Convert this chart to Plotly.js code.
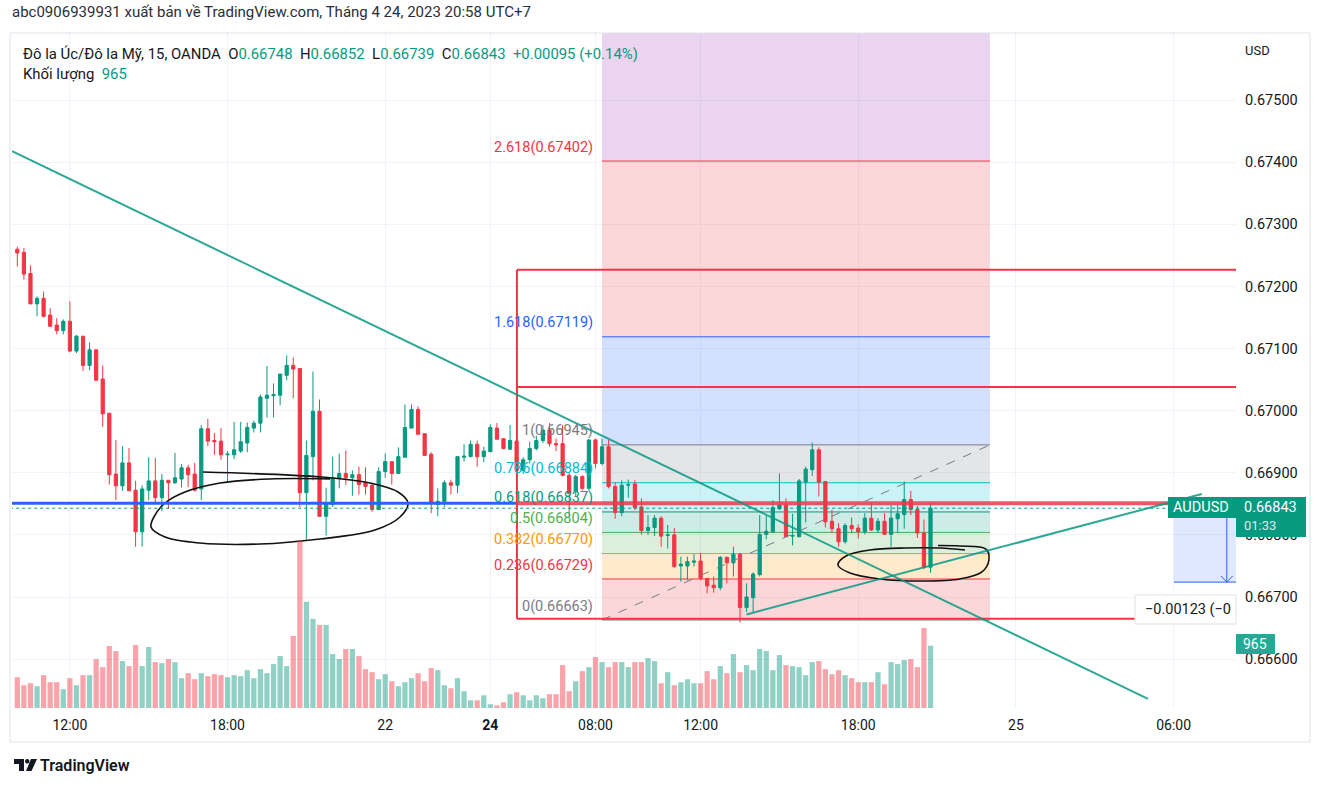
<!DOCTYPE html>
<html>
<head>
<meta charset="utf-8">
<script src="https://cdn.plot.ly/plotly-3.0.1.min.js"></script>
<style>
  html, body { margin: 0; padding: 0; background: #fff; }
  #chart { width: 1324px; height: 786px; }
</style>
</head>
<body>
<div id="chart"></div>
<script>
// AUDUSD 15m, bar index 0 = Fri 21/04 10:00 (UTC+7), weekend removed
const opens = [
  0.67260, 0.67255, 0.67221, 0.67172, 0.67181, 0.67154, 0.67138, 0.67129, 0.67144, 0.67096,
  0.67120, 0.67073, 0.67098, 0.67051, 0.66996, 0.66898, 0.66879, 0.66916, 0.66872, 0.66805,
  0.66872, 0.66887, 0.66860, 0.66888, 0.66884, 0.66890, 0.66908, 0.66898, 0.66874, 0.66971,
  0.66952, 0.66951, 0.66929, 0.66929, 0.66935, 0.66948, 0.66972, 0.66980, 0.67020, 0.67024,
  0.67025, 0.67057, 0.67073, 0.67068, 0.66868, 0.66926, 0.66999, 0.66830, 0.66849, 0.66891,
  0.66899, 0.66892, 0.66897, 0.66884, 0.66880, 0.66841, 0.66902, 0.66918, 0.66899, 0.66925,
  0.66972, 0.67002, 0.66963, 0.66930, 0.66849, 0.66854, 0.66884, 0.66880, 0.66925, 0.66926,
  0.66946, 0.66926, 0.66934, 0.66972, 0.66955, 0.66938, 0.66951, 0.66904, 0.66921, 0.66939,
  0.66952, 0.66969, 0.66947, 0.66947, 0.66896, 0.66870, 0.66894, 0.66875, 0.66953, 0.66915,
  0.66942, 0.66878, 0.66836, 0.66880, 0.66882, 0.66845, 0.66807, 0.66812, 0.66827, 0.66799,
  0.66800, 0.66750, 0.66750, 0.66756, 0.66758, 0.66730, 0.66719, 0.66715, 0.66764, 0.66755,
  0.66769, 0.66683, 0.66699, 0.66736, 0.66801, 0.66805, 0.66842, 0.66848, 0.66798, 0.66797,
  0.66885, 0.66905, 0.66937, 0.66886, 0.66822, 0.66810, 0.66789, 0.66815, 0.66811, 0.66805,
  0.66827, 0.66808, 0.66822, 0.66801, 0.66826, 0.66833, 0.66857, 0.66841, 0.66803, 0.66748
];
const highs = [
  0.67264, 0.67262, 0.67234, 0.67184, 0.67192, 0.67165, 0.67149, 0.67147, 0.67176, 0.67122,
  0.67120, 0.67110, 0.67098, 0.67073, 0.66996, 0.66953, 0.66943, 0.66940, 0.66887, 0.66880,
  0.66925, 0.66924, 0.66898, 0.66888, 0.66932, 0.66914, 0.66913, 0.66916, 0.66977, 0.66987,
  0.66964, 0.66972, 0.66935, 0.66982, 0.66982, 0.66981, 0.66984, 0.67026, 0.67072, 0.67044,
  0.67059, 0.67089, 0.67086, 0.67068, 0.66952, 0.67063, 0.67018, 0.66876, 0.66926, 0.66931,
  0.66936, 0.66904, 0.66910, 0.66909, 0.66884, 0.66909, 0.66931, 0.66918, 0.66941, 0.67010,
  0.67010, 0.67007, 0.66963, 0.66933, 0.66875, 0.66888, 0.66889, 0.66926, 0.66946, 0.66952,
  0.66952, 0.66942, 0.66978, 0.66980, 0.66956, 0.66977, 0.66956, 0.66925, 0.66950, 0.66960,
  0.66977, 0.66980, 0.66955, 0.66977, 0.66900, 0.66897, 0.66896, 0.66954, 0.66955, 0.66955,
  0.66953, 0.66885, 0.66888, 0.66889, 0.66888, 0.66859, 0.66832, 0.66832, 0.66830, 0.66816,
  0.66811, 0.66765, 0.66765, 0.66769, 0.66771, 0.66730, 0.66733, 0.66766, 0.66765, 0.66781,
  0.66771, 0.66722, 0.66740, 0.66832, 0.66831, 0.66856, 0.66899, 0.66859, 0.66834, 0.66890,
  0.66910, 0.66949, 0.66941, 0.66886, 0.66840, 0.66819, 0.66819, 0.66828, 0.66817, 0.66835,
  0.66852, 0.66827, 0.66835, 0.66848, 0.66848, 0.66886, 0.66871, 0.66847, 0.66825, 0.66852
];
const lows = [
  0.67232, 0.67211, 0.67172, 0.67152, 0.67150, 0.67135, 0.67123, 0.67123, 0.67094, 0.67093,
  0.67064, 0.67065, 0.67049, 0.66974, 0.66881, 0.66856, 0.66871, 0.66871, 0.66781, 0.66781,
  0.66856, 0.66851, 0.66838, 0.66842, 0.66882, 0.66876, 0.66877, 0.66870, 0.66856, 0.66943,
  0.66929, 0.66921, 0.66886, 0.66922, 0.66932, 0.66933, 0.66965, 0.66965, 0.66989, 0.66989,
  0.67009, 0.67049, 0.67020, 0.66845, 0.66792, 0.66888, 0.66830, 0.66799, 0.66845, 0.66875,
  0.66881, 0.66863, 0.66865, 0.66865, 0.66837, 0.66841, 0.66892, 0.66881, 0.66899, 0.66925,
  0.66972, 0.66962, 0.66928, 0.66835, 0.66830, 0.66845, 0.66865, 0.66867, 0.66918, 0.66925,
  0.66910, 0.66917, 0.66934, 0.66954, 0.66938, 0.66937, 0.66900, 0.66898, 0.66915, 0.66936,
  0.66948, 0.66942, 0.66935, 0.66894, 0.66830, 0.66862, 0.66872, 0.66872, 0.66907, 0.66912,
  0.66875, 0.66826, 0.66830, 0.66860, 0.66840, 0.66801, 0.66800, 0.66798, 0.66781, 0.66778,
  0.66747, 0.66725, 0.66727, 0.66749, 0.66727, 0.66706, 0.66707, 0.66711, 0.66722, 0.66733,
  0.66659, 0.66676, 0.66676, 0.66733, 0.66793, 0.66803, 0.66840, 0.66797, 0.66783, 0.66797,
  0.66820, 0.66895, 0.66862, 0.66812, 0.66803, 0.66781, 0.66786, 0.66803, 0.66794, 0.66801,
  0.66806, 0.66803, 0.66800, 0.66781, 0.66803, 0.66810, 0.66832, 0.66795, 0.66745, 0.66739
];
const closes = [
  0.67254, 0.67220, 0.67172, 0.67181, 0.67152, 0.67136, 0.67129, 0.67144, 0.67096, 0.67120,
  0.67073, 0.67098, 0.67049, 0.66995, 0.66897, 0.66879, 0.66916, 0.66871, 0.66805, 0.66874,
  0.66887, 0.66860, 0.66888, 0.66884, 0.66892, 0.66908, 0.66897, 0.66872, 0.66971, 0.66951,
  0.66950, 0.66929, 0.66930, 0.66937, 0.66950, 0.66973, 0.66980, 0.67022, 0.67025, 0.67026,
  0.67059, 0.67073, 0.67067, 0.66868, 0.66928, 0.66999, 0.66830, 0.66849, 0.66892, 0.66899,
  0.66892, 0.66897, 0.66881, 0.66878, 0.66841, 0.66902, 0.66918, 0.66899, 0.66926, 0.66973,
  0.67002, 0.66962, 0.66928, 0.66851, 0.66854, 0.66884, 0.66880, 0.66926, 0.66927, 0.66946,
  0.66926, 0.66935, 0.66973, 0.66954, 0.66939, 0.66952, 0.66904, 0.66921, 0.66939, 0.66952,
  0.66969, 0.66947, 0.66945, 0.66896, 0.66867, 0.66894, 0.66875, 0.66953, 0.66915, 0.66942,
  0.66878, 0.66836, 0.66880, 0.66881, 0.66844, 0.66807, 0.66812, 0.66827, 0.66798, 0.66800,
  0.66749, 0.66753, 0.66757, 0.66758, 0.66730, 0.66718, 0.66715, 0.66764, 0.66755, 0.66769,
  0.66683, 0.66700, 0.66737, 0.66801, 0.66806, 0.66844, 0.66848, 0.66797, 0.66799, 0.66887,
  0.66906, 0.66937, 0.66885, 0.66821, 0.66810, 0.66789, 0.66815, 0.66810, 0.66805, 0.66827,
  0.66808, 0.66822, 0.66801, 0.66827, 0.66834, 0.66857, 0.66841, 0.66803, 0.66748, 0.66843
];
const volumes = [
  477, 353, 384, 337, 509, 400, 400, 291, 462, 353,
  509, 509, 758, 633, 960, 882, 727, 649, 976, 649,
  945, 711, 695, 758, 711, 462, 540, 446, 540, 493,
  524, 509, 477, 509, 493, 586, 462, 602, 540, 680,
  804, 649, 1116, 2594, 1645, 1381, 1287, 1287, 836, 758,
  913, 913, 804, 602, 555, 446, 524, 415, 337, 400,
  462, 540, 415, 618, 586, 353, 306, 462, 260, 119,
  119, 197, 57, 42, 88, 213, 244, 197, 119, 197,
  151, 213, 213, 664, 260, 415, 571, 633, 789, 711,
  633, 711, 711, 633, 711, 711, 773, 727, 384, 555,
  353, 400, 446, 384, 384, 571, 446, 649, 540, 836,
  555, 664, 586, 913, 882, 586, 820, 664, 649, 633,
  509, 711, 727, 602, 524, 586, 509, 462, 400, 400,
  400, 555, 368, 711, 680, 742, 758, 633, 1240, 965
];

const timeTicks = [8, 32, 56, 72, 88, 104, 128, 152, 176];
const timeLabels = ['12:00', '18:00', '22', '<b>24</b>', '08:00', '12:00', '18:00', '25', '06:00'];
const priceTicks = [0.666, 0.667, 0.668, 0.669, 0.670, 0.671, 0.672, 0.673, 0.674, 0.675];

// fibonacci drawing (bar index / price)
const fibFrom = 89, fibTo = 148.05;
const fibLevels = [0, 0.236, 0.382, 0.5, 0.618, 0.786, 1, 1.618, 2.618, 3.618];
const fibPrices = [0.66663, 0.66729, 0.66770, 0.66804, 0.66837, 0.66884, 0.66945, 0.67119, 0.67402, 0.67683];
const fibColors = ['#787b86', '#f23645', '#ff9800', '#4caf50', '#089981', '#00bcd4', '#787b86', '#2962ff', '#f23645', '#9c27b0'];

// other drawings
const downTrend = [[-0.8, 0.67418], [172.1, 0.66536]];
const upTrend = [[111.0, 0.66672], [180.3, 0.66866]];
const blueLevel = 0.66851;
const boxLeft = 76.05;
const boxLevels = [0.66665, 0.66851, 0.67038, 0.67227];
const measure = { x0: 176.05, x1: 190, arrowX: 184.1, top: 0.66829, bottom: 0.66724 };

const loopLeft = [
  [28.27, 0.669013], [46.38, 0.668932], [53.68, 0.668836], [57.95, 0.668691], [59.47, 0.668514],
  [58.25, 0.668289], [54.44, 0.668079], [46.07, 0.667934], [36.94, 0.667853], [27.81, 0.667869],
  [22.48, 0.667966], [20.35, 0.668127], [20.96, 0.668320], [22.48, 0.668514], [25.52, 0.668691],
  [30.85, 0.668836], [38.46, 0.668901], [47.59, 0.668901]
];
const loopRight = [
  [140.13, 0.667829], [143.48, 0.667821], [147.44, 0.667773], [147.89, 0.667596], [146.83, 0.667403],
  [143.48, 0.667291], [137.85, 0.667258], [131.30, 0.667291], [126.74, 0.667387], [124.91, 0.667516],
  [126.13, 0.667661], [129.78, 0.667757], [135.26, 0.667789], [140.44, 0.667789], [144.25, 0.667757]
];

const UP = '#089981', DOWN = '#f23645';
const FONT = 'Roboto, "Noto Sans", sans-serif';
const TXT = '#131722';

// plot area in page pixels, used only for the chrome around the chart
const PL = 12, PR = 1236, PT = 33, PB = 708;
const px = (x) => (x - PL) / (PR - PL);
const py = (y) => (PB - y) / (PB - PT);

const idx = opens.map((_, i) => i);
const n = closes.length;
const lastClose = closes[n - 1];

function rgba(hex, a) {
  const v = parseInt(hex.slice(1), 16);
  return `rgba(${(v >> 16) & 255},${(v >> 8) & 255},${v & 255},${a})`;
}

const volTrace = {
  type: 'bar',
  x: idx,
  y: volumes,
  yaxis: 'y2',
  width: 0.8,
  marker: { color: idx.map((i) => rgba(closes[i] >= opens[i] ? UP : DOWN, 0.45)), line: { width: 0 } },
  hoverinfo: 'skip'
};

const candleTrace = {
  type: 'candlestick',
  x: idx,
  open: opens,
  high: highs,
  low: lows,
  close: closes,
  increasing: { line: { color: UP, width: 1 }, fillcolor: UP },
  decreasing: { line: { color: DOWN, width: 1 }, fillcolor: DOWN },
  whiskerwidth: 0,
  hoverinfo: 'none'
};

function loopTrace(pts) {
  return {
    type: 'scatter',
    mode: 'lines',
    x: pts.map((p) => p[0]),
    y: pts.map((p) => p[1]),
    line: { color: '#111111', width: 1.6, shape: 'spline', smoothing: 1 },
    hoverinfo: 'skip'
  };
}

const shapes = [];

// fib bands + levels
for (let i = 0; i < fibLevels.length - 1; i++) {
  shapes.push({
    type: 'rect', xref: 'x', yref: 'y', layer: 'between',
    x0: fibFrom, x1: fibTo, y0: fibPrices[i], y1: fibPrices[i + 1],
    fillcolor: rgba(fibColors[i + 1], 0.2), line: { width: 0 }
  });
}
for (let i = 0; i < fibLevels.length; i++) {
  shapes.push({
    type: 'line', xref: 'x', yref: 'y', layer: 'between',
    x0: fibFrom, x1: fibTo, y0: fibPrices[i], y1: fibPrices[i],
    line: { color: fibColors[i], width: 1 }
  });
}
shapes.push({
  type: 'line', xref: 'x', yref: 'y', layer: 'above',
  x0: fibFrom, x1: fibTo, y0: fibPrices[0], y1: fibPrices[6],
  line: { color: '#787b86', width: 1, dash: 'dash' }
});

// current price dotted line
shapes.push({
  type: 'line', xref: 'x', yref: 'y', layer: 'above',
  x0: -2, x1: 200, y0: lastClose, y1: lastClose,
  line: { color: UP, width: 1, dash: 'dot' }
});

// blue horizontal level
shapes.push({
  type: 'line', xref: 'x', yref: 'y', layer: 'above',
  x0: -2, x1: boxLeft, y0: blueLevel, y1: blueLevel,
  line: { color: '#2962ff', width: 3 }
});

// red box
shapes.push({
  type: 'line', xref: 'x', yref: 'y', layer: 'above',
  x0: boxLeft, x1: boxLeft, y0: boxLevels[0], y1: boxLevels[3],
  line: { color: DOWN, width: 2 }
});
boxLevels.forEach((lv) => {
  const thick = lv === blueLevel;
  shapes.push({
    type: 'line', xref: 'x', yref: 'y', layer: 'above',
    x0: boxLeft, x1: 200, y0: lv, y1: lv,
    line: { color: thick ? 'rgba(230,60,75,0.85)' : DOWN, width: thick ? 4 : 2 }
  });
});

// trend lines
[downTrend, upTrend].forEach((t) => {
  shapes.push({
    type: 'line', xref: 'x', yref: 'y', layer: 'above',
    x0: t[0][0], y0: t[0][1], x1: t[1][0], y1: t[1][1],
    line: { color: 'rgba(8,153,129,0.85)', width: 2 }
  });
});

// price range measure
shapes.push({
  type: 'rect', xref: 'x', yref: 'y', layer: 'above',
  x0: measure.x0, x1: measure.x1, y0: measure.bottom, y1: measure.top,
  fillcolor: 'rgba(41,98,255,0.15)', line: { width: 0 }
});
shapes.push({
  type: 'line', xref: 'x', yref: 'y', layer: 'above',
  x0: measure.x0, x1: measure.x1, y0: measure.bottom, y1: measure.bottom,
  line: { color: '#2962ff', width: 1 }
});
shapes.push({
  type: 'line', xref: 'x', yref: 'y', layer: 'above',
  x0: measure.arrowX, x1: measure.arrowX, y0: measure.top, y1: measure.bottom,
  line: { color: '#2962ff', width: 1 }
});
shapes.push({
  type: 'path', xref: 'x', yref: 'y', layer: 'above',
  path: `M ${measure.arrowX - 0.9},${measure.bottom + 0.0001} L ${measure.arrowX},${measure.bottom} L ${measure.arrowX + 0.9},${measure.bottom + 0.0001}`,
  line: { color: '#2962ff', width: 1 }
});

// chart frame
shapes.push({
  type: 'rect', xref: 'paper', yref: 'paper', layer: 'above',
  x0: px(10), x1: px(1310), y0: py(742), y1: py(33),
  line: { color: '#e0e3eb', width: 1 }
});

// last price label
shapes.push({
  type: 'rect', xref: 'paper', yref: 'paper', layer: 'above',
  x0: px(1168), x1: px(1236), y0: py(518), y1: py(497),
  fillcolor: UP, line: { width: 0 }
});
shapes.push({
  type: 'rect', xref: 'paper', yref: 'paper', layer: 'above',
  x0: px(1236), x1: px(1306), y0: py(537), y1: py(497),
  fillcolor: UP, line: { width: 0 }
});
// volume label
shapes.push({
  type: 'rect', xref: 'paper', yref: 'paper', layer: 'above',
  x0: px(1236), x1: px(1275), y0: py(654), y1: py(634),
  fillcolor: '#22ab94', line: { width: 0 }
});
// measure label box
shapes.push({
  type: 'rect', xref: 'paper', yref: 'paper', layer: 'above',
  x0: px(1135), x1: px(1236), y0: py(624), y1: py(595),
  fillcolor: '#ffffff', line: { color: '#e0e3eb', width: 1 }
});
// logo
shapes.push({
  type: 'path', xref: 'paper', yref: 'paper', layer: 'above',
  path: `M ${px(14)},${py(759)} L ${px(24)},${py(759)} L ${px(24)},${py(771)} L ${px(19)},${py(771)} L ${px(19)},${py(764)} L ${px(14)},${py(764)} Z`,
  fillcolor: TXT, line: { width: 0 }
});
shapes.push({
  type: 'circle', xref: 'paper', yref: 'paper', layer: 'above',
  x0: px(25), x1: px(29.5), y0: py(763.5), y1: py(759),
  fillcolor: TXT, line: { width: 0 }
});
shapes.push({
  type: 'path', xref: 'paper', yref: 'paper', layer: 'above',
  path: `M ${px(31)},${py(759)} L ${px(37)},${py(759)} L ${px(31.5)},${py(771)} L ${px(26)},${py(771)} Z`,
  fillcolor: TXT, line: { width: 0 }
});

const annotations = [];
function note(text, x, y, opts = {}) {
  annotations.push(Object.assign({
    text, x: px(x), y: py(y), xref: 'paper', yref: 'paper',
    xanchor: 'left', yanchor: 'middle', showarrow: false,
    font: { family: FONT, size: 14, color: TXT }
  }, opts));
}

const chg = closes[n - 1] - closes[n - 2];
const chgPct = (chg / closes[n - 2]) * 100;
const g = (s) => `<span style="color:${UP}">${s}</span>`;
const sp = '\u00a0\u00a0';

note('abc0906939931 xuất bản về TradingView.com, Tháng 4 24, 2023 20:58 UTC+7', 10, 12,
  { font: { family: FONT, size: 15, color: '#2a2e39' } });
note(`Đô la Úc/Đô la Mỹ, 15, OANDA${sp}O${g(opens[n - 1].toFixed(5))}${sp}H${g(highs[n - 1].toFixed(5))}` +
  `${sp}L${g(lows[n - 1].toFixed(5))}${sp}C${g(closes[n - 1].toFixed(5))}` +
  `${sp}${g((chg >= 0 ? '+' : '') + chg.toFixed(5) + ' (' + (chg >= 0 ? '+' : '') + chgPct.toFixed(2) + '%)')}`,
  21, 54, { font: { family: FONT, size: 14.9, color: TXT } });
note(`Khối lượng${sp}${g(volumes[n - 1])}`, 21, 74, { font: { family: FONT, size: 14.9, color: TXT } });
note('USD', 1243, 50, { font: { family: FONT, size: 13, color: TXT } });
note('AUDUSD', 1201, 507, { xanchor: 'center', font: { family: FONT, size: 14.5, color: '#ffffff' } });
note(lastClose.toFixed(5), 1242, 507, { font: { family: FONT, size: 14.5, color: '#ffffff' } });
note('01:33', 1242, 525, { font: { family: FONT, size: 13, color: 'rgba(255,255,255,0.85)' } });
note(String(volumes[n - 1]), 1255, 644, { xanchor: 'center', font: { family: FONT, size: 14, color: '#ffffff' } });
note('\u22120.00123 (\u22120', 1143, 609, { font: { family: FONT, size: 14.5, color: TXT } });
note('TradingView', 38, 765, { font: { family: FONT, size: 16, color: TXT, weight: 600 } });

// fib labels
fibLevels.forEach((lv, i) => {
  if (fibPrices[i] > 0.676) return;
  annotations.push({
    text: `${lv}(${fibPrices[i].toFixed(5)})`,
    xref: 'x', yref: 'y', x: fibFrom, y: fibPrices[i],
    xanchor: 'right', yanchor: 'middle', xshift: -7, yshift: 14,
    showarrow: false,
    font: { family: FONT, size: 14.5, color: fibColors[i] }
  });
});

const layout = {
  width: 1324,
  height: 786,
  margin: { l: PL, r: 1324 - PR, t: PT, b: 786 - PB },
  paper_bgcolor: '#ffffff',
  plot_bgcolor: '#ffffff',
  showlegend: false,
  font: { family: FONT, size: 14, color: TXT },
  xaxis: {
    range: [-0.81, 185.5],
    tickvals: timeTicks,
    ticktext: timeLabels,
    tickfont: { family: FONT, size: 14, color: TXT },
    showgrid: true,
    gridcolor: '#f0f3fa',
    zeroline: false,
    showline: false,
    ticks: '',
    ticklabelstandoff: 7,
    rangeslider: { visible: false },
    fixedrange: true
  },
  yaxis: {
    side: 'right',
    range: [0.665213, 0.676082],
    tickvals: priceTicks,
    ticktext: priceTicks.map((v) => v.toFixed(5)),
    tickfont: { family: FONT, size: 14.5, color: TXT },
    showgrid: true,
    gridcolor: '#f0f3fa',
    zeroline: false,
    showline: false,
    ticks: '',
    ticklabelstandoff: 8,
    fixedrange: true
  },
  yaxis2: {
    overlaying: 'y',
    range: [0, 10455],
    visible: false,
    fixedrange: true
  },
  shapes,
  annotations
};

Plotly.newPlot('chart', [volTrace, candleTrace, loopTrace(loopLeft), loopTrace(loopRight)], layout,
  { staticPlot: true, displayModeBar: false });
</script>
</body>
</html>
